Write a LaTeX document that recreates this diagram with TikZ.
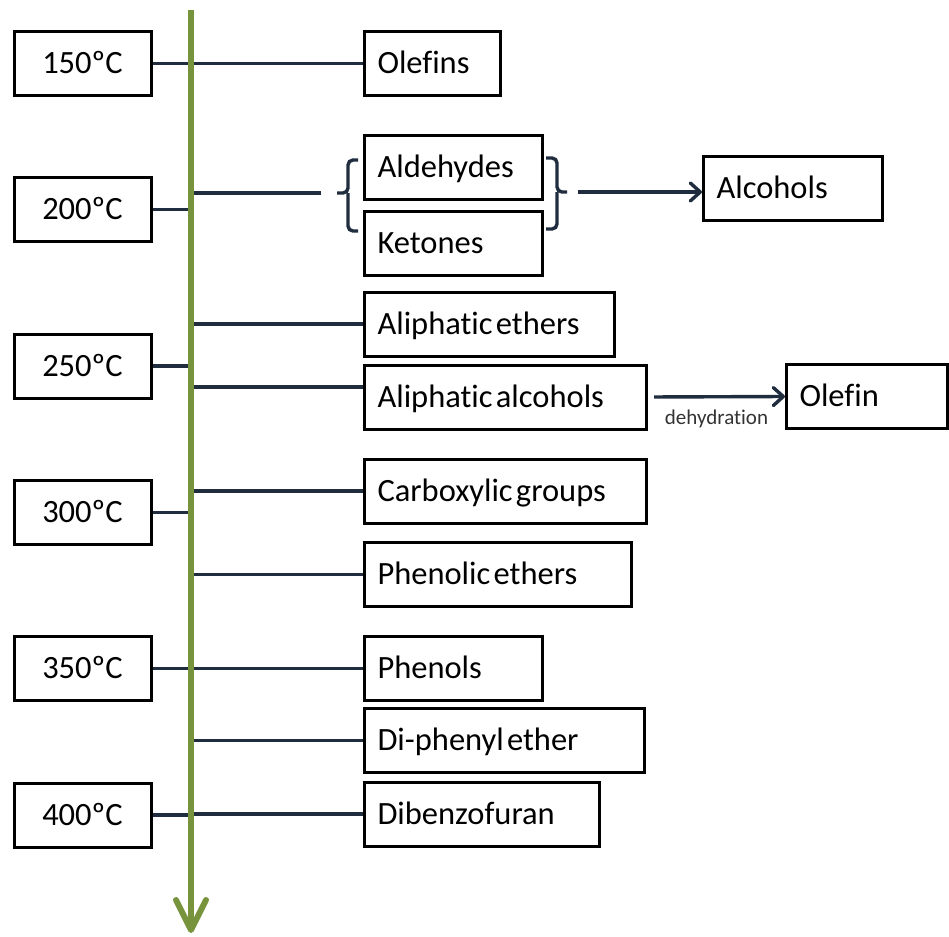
\documentclass[tikz,border=0pt]{standalone}
\usepackage{fontspec}
\setmainfont{Carlito}[Ligatures=NoCommon]
\usetikzlibrary{arrows.meta}
\definecolor{axisgreen}{RGB}{119,147,60}
\definecolor{linkcol}{HTML}{1F2D3F}
\begin{document}
\begin{tikzpicture}[x=1pt,y=-1pt,
  box/.style={draw=black,line width=3pt,minimum height=64pt,inner ysep=0pt,inner xsep=13pt,
    align=left,font=\fontsize{32.5}{38}\selectfont,execute at begin node={\spaceskip=0.1em\relax},
    text height=24pt,text depth=3.4pt,anchor=west},
  tbox/.style={box,align=center,anchor=center,text width=111pt},
  link/.style={draw=linkcol,line width=3.4pt},
  larrow/.style={link,-{Straight Barb[length=10pt,width=18pt,round]}},
  brace/.style={link,rounded corners=5pt}]
\useasboundingbox (0,0) rectangle (949,936);
\fill[white] (0,0) rectangle (949,936);
% temperature boxes
\node[tbox] (t150) at (82.5,63.5) {150ºC};
\node[tbox] (t200) at (82.5,209.5) {200ºC};
\node[tbox] (t250) at (82.5,366) {250ºC};
\node[tbox] (t300) at (82.5,512.5) {300ºC};
\node[tbox] (t350) at (82.5,668.5) {350ºC};
\node[tbox] (t400) at (82.5,815) {400ºC};
% product boxes
\node[box,text width=110pt] (olefins) at (363,63.5) {Olefins};
\node[box,text width=152pt] (ald) at (363,167.5) {Aldehydes};
\node[box,text width=152pt] (ket) at (363,243.5) {Ketones};
\node[box,text width=153pt] (alcohols) at (702,188.5) {Alcohols};
\node[box,text width=224pt] (aeth) at (363,324) {Aliphatic ethers};
\node[box,text width=256pt] (aalc) at (363,397) {Aliphatic alcohols};
\node[box,text width=135pt] (olefin) at (785,396.5) {Olefin};
\node[box,text width=256pt] (carb) at (363,491) {Carboxylic groups};
\node[box,text width=241pt] (pheth) at (363,574.5) {Phenolic ethers};
\node[box,text width=152pt] (phen) at (363,668.5) {Phenols};
\node[box,text width=254pt] (diph) at (363,740.5) {Di-phenyl ether};
\node[box,text width=209pt] (dbf) at (363,814) {Dibenzofuran};
% axis coordinates
\coordinate (atop) at (191,10);
\coordinate (abot) at (191,933);
% temperature connectors
\foreach \t in {t150,t200,t250,t300,t350,t400}
  \draw[link] (\t.east) -- (\t.east -| atop);
% product connectors
\foreach \p in {olefins,aeth,carb,pheth,phen,diph,dbf}
  \draw[link] (\p.west -| atop) -- (\p.west);
\coordinate (aalcin) at ([yshift=10pt]aalc.west);
\draw[link] (aalcin -| atop) -- (aalcin);
% aldehyde / ketone group
\coordinate (blend) at (321,193);
\draw[link] (blend -| atop) -- (blend);
\draw[brace] (358,160) -| (348,193) -- (337,193);
\draw[brace] (348,193) |- (358,231);
\draw[brace] (546,158) -| (557,192) -- (567,192);
\draw[brace] (557,192) |- (546,229);
\coordinate (arrs) at (578,192);
\draw[larrow] (arrs) -- (arrs -| alcohols.west);
% dehydration
\draw[larrow,shorten <=6pt] (aalc.east) -- (olefin.west)
  node[midway,yshift=-22pt,font=\fontsize{21}{25}\selectfont,text=black!80] {dehydration};
% axis
\draw[axisgreen,line width=6pt,-{Straight Barb[length=30pt,width=30pt,round]}] (atop) -- (abot);
\end{tikzpicture}
\end{document}
